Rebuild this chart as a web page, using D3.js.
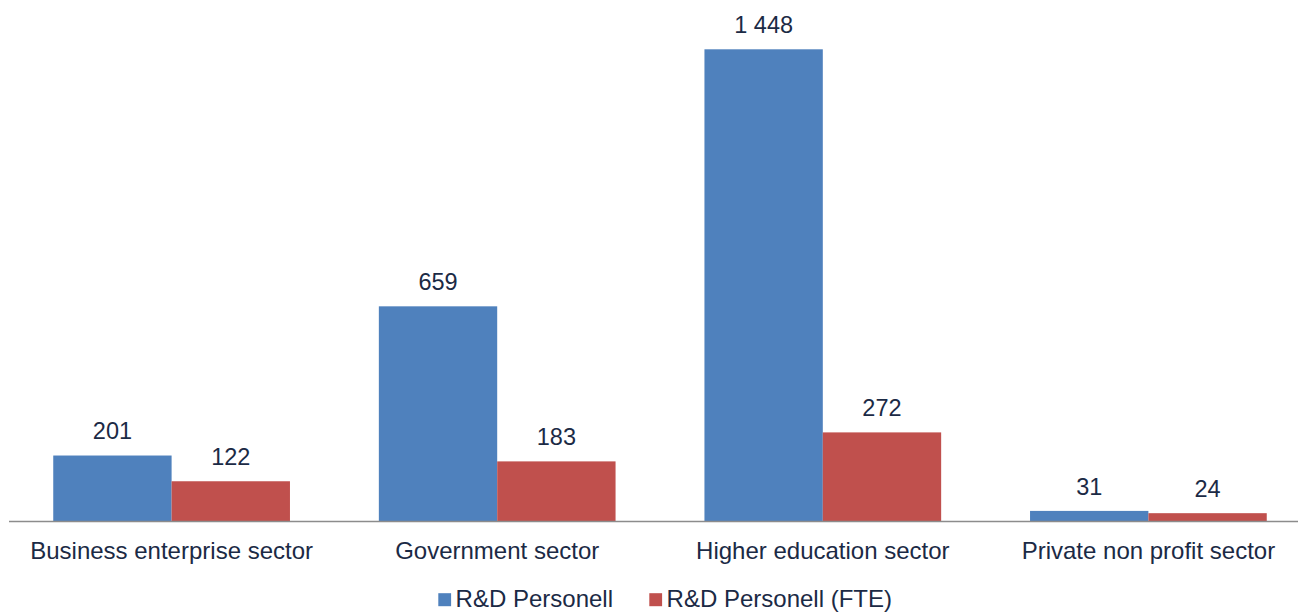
<!DOCTYPE html>
<html><head><meta charset="utf-8">
<script src="https://cdn.jsdelivr.net/npm/d3@7"></script>
<style>body{margin:0;background:#fff;}svg{display:block;font-family:"Liberation Sans",Arial,sans-serif;}</style>
</head><body>
<svg id="chart" width="1298" height="613"></svg>
<script>
const categories = ["Business enterprise sector","Government sector","Higher education sector","Private non profit sector"];
const seriesNames = ["R&D Personell","R&D Personell (FTE)"];
const personell = [201, 659, 1448, 31];
const personellFTE = [122, 183, 272, 24];
const colors = ["#4F81BD","#C0504D"];
const textColor = "#1b2a45";

const svg = d3.select("#chart");
const baseY = 521;
const x0 = d3.scaleBand().domain(categories).range([8.8, 1311.2]).paddingInner(0.273).paddingOuter(0.1365);
const x1 = d3.scaleBand().domain(seriesNames).range([0, x0.bandwidth()]);
const y = d3.scaleLinear().domain([0, 1448]).range([baseY, 49.3]);
const fmt = v => d3.format(",")(v).replace(/,/g, " ");

const data = categories.map((c,i)=>({cat:c, vals:[personell[i], personellFTE[i]]}));

const groups = svg.selectAll("g.grp").data(data).join("g").attr("class","grp")
  .attr("transform", d=>`translate(${x0(d.cat)},0)`);
groups.selectAll("rect").data(d=>d.vals.map((v,j)=>({v, s:seriesNames[j], j})))
  .join("rect")
  .attr("x", d=>x1(d.s)).attr("width", x1.bandwidth())
  .attr("y", d=>y(d.v)).attr("height", d=>baseY - y(d.v))
  .attr("fill", d=>colors[d.j]);
groups.selectAll("text.val").data(d=>d.vals.map((v,j)=>({v, s:seriesNames[j], j})))
  .join("text").attr("class","val")
  .attr("x", d=>x1(d.s)+x1.bandwidth()/2).attr("y", d=>y(d.v)-16.3)
  .attr("text-anchor","middle").attr("font-size","23.5px").attr("fill",textColor)
  .text(d=>fmt(d.v));

// axis line
const axis = d3.axisBottom(x0).tickSize(0).tickPadding(0);
const ax = svg.append("g").attr("transform",`translate(0,${baseY})`).call(axis);
ax.select(".domain").attr("stroke","#8c8c8c").attr("stroke-width",1.5).attr("d",`M${9},0.5H1320`);
ax.selectAll(".tick text").attr("font-size","24px").attr("fill",textColor)
  .attr("dy",null).attr("y",37.7).attr("font-family","Liberation Sans, Arial, sans-serif");

// legend
const legend = svg.append("g");
const legX = [438.3, 649.3];
seriesNames.forEach((s,j)=>{
  legend.append("rect").attr("x",legX[j]).attr("y",593.2).attr("width",12.8).attr("height",13).attr("fill",colors[j]);
  legend.append("text").attr("x",legX[j]+17.3).attr("y",607.3).attr("font-size","24px").attr("fill",textColor).text(s);
});
</script>
</body></html>
